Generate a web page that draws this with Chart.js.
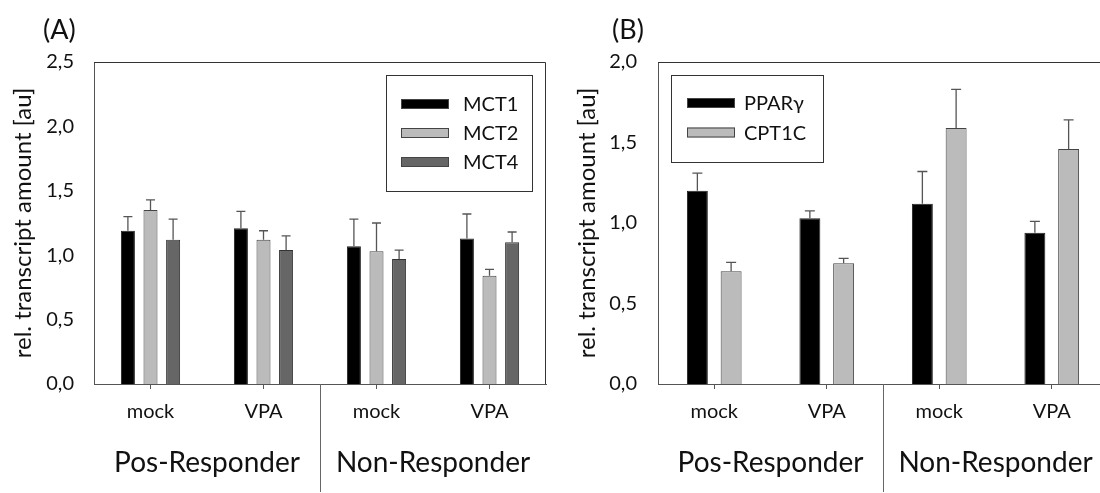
<!DOCTYPE html>
<html>
<head>
<meta charset="utf-8">
<script src="https://cdn.jsdelivr.net/npm/chart.js@4.4.1/dist/chart.umd.min.js"></script>
<style>
  html, body { margin: 0; padding: 0; background: #fff; overflow: hidden; }
  #wrap { position: relative; width: 1100px; height: 493px; overflow: hidden; }
  #chartA { position: absolute; left: 0; top: 0; }
  #chartB { position: absolute; left: 550px; top: 0; }
</style>
</head>
<body>
<div id="wrap">
  <canvas id="chartA" width="550" height="493"></canvas>
  <canvas id="chartB" width="570" height="493"></canvas>
</div>
<script>
// categories
const treatments = ['mock', 'VPA', 'mock', 'VPA'];
const responderGroups = ['Pos-Responder', 'Non-Responder'];

// tick labels
const yTicksA = ['0,0', '0,5', '1,0', '1,5', '2,0', '2,5'];
const yTicksB = ['0,0', '0,5', '1,0', '1,5', '2,0'];

// (A) monocarboxylate transporters, mean and SEM
const mct1 = [1.19, 1.21, 1.07, 1.13];
const mct1Err = [0.11, 0.13, 0.21, 0.19];
const mct2 = [1.35, 1.12, 1.03, 0.84];
const mct2Err = [0.08, 0.07, 0.22, 0.05];
const mct4 = [1.12, 1.04, 0.97, 1.10];
const mct4Err = [0.16, 0.11, 0.07, 0.08];

// (B) PPARγ and CPT1C
const ppar = [1.20, 1.03, 1.12, 0.94];
const pparErr = [0.11, 0.045, 0.20, 0.07];
const cpt1c = [0.70, 0.75, 1.59, 1.46];
const cpt1cErr = [0.055, 0.03, 0.24, 0.18];

Chart.defaults.font.family = 'Lato, "Open Sans", sans-serif';
Chart.defaults.color = '#111';

// upward-only error whiskers on top of each bar
const errorBars = {
  id: 'errorBars',
  afterDatasetsDraw(chart, args, opts) {
    const { ctx } = chart;
    const y = chart.scales.y;
    chart.data.datasets.forEach((ds, i) => {
      const meta = chart.getDatasetMeta(i);
      meta.data.forEach((bar, j) => {
        const top = y.getPixelForValue(ds.data[j] + ds.errors[j]);
        ctx.save();
        ctx.strokeStyle = '#555';
        ctx.lineWidth = 1.3;
        ctx.beginPath();
        ctx.moveTo(bar.x, bar.y);
        ctx.lineTo(bar.x, top);
        ctx.moveTo(bar.x - opts.cap / 2, top);
        ctx.lineTo(bar.x + opts.cap / 2, top);
        ctx.stroke();
        ctx.restore();
      });
    });
  }
};

// box frame, group labels under the axis, legend box and panel letter
const decorations = {
  id: 'decorations',
  afterDraw(chart, args, opts) {
    const { ctx, chartArea: a } = chart;
    const x = chart.scales.x;
    ctx.save();

    ctx.strokeStyle = '#333';
    ctx.lineWidth = 1;
    ctx.beginPath();
    ctx.moveTo(a.left, a.top + 0.5);
    ctx.lineTo(a.right - 0.5, a.top + 0.5);
    ctx.lineTo(a.right - 0.5, a.bottom);
    ctx.stroke();

    const sep = Math.round((x.getPixelForValue(1) + x.getPixelForValue(2)) / 2) + 0.5;
    ctx.strokeStyle = '#666';
    ctx.beginPath();
    ctx.moveTo(sep, a.bottom);
    ctx.lineTo(sep, a.bottom + 108);
    ctx.stroke();

    ctx.fillStyle = '#111';
    ctx.font = '28px Lato';
    ctx.textAlign = 'center';
    ctx.textBaseline = 'alphabetic';
    responderGroups.forEach((g, k) => {
      const cx = (x.getPixelForValue(2 * k) + x.getPixelForValue(2 * k + 1)) / 2;
      ctx.fillText(g, cx, a.bottom + 88);
    });

    ctx.font = '27px Lato';
    ctx.textAlign = 'left';
    ctx.fillText(opts.letter, opts.letterX, 39);

    // legend
    const L = opts.legend;
    ctx.strokeStyle = '#333';
    ctx.strokeRect(L.x + 0.5, L.y + 0.5, L.w, L.h);
    ctx.font = '20px Lato';
    ctx.textBaseline = 'middle';
    chart.data.datasets.forEach((ds, i) => {
      const cy = L.row0 + i * L.rowGap;
      ctx.fillStyle = ds.backgroundColor;
      ctx.fillRect(L.swX, cy - 5, 48, 10);
      ctx.strokeStyle = '#444';
      ctx.strokeRect(L.swX + 0.5, cy - 4.5, 47, 9);
      ctx.fillStyle = '#111';
      ctx.fillText(ds.label, L.textX, cy + 1);
    });
    ctx.restore();
  }
};

function makeChart(canvasId, datasets, yMax, yTicks, axisWidth, titlePad, tickPad, rightPad, deco, cap) {
  return new Chart(document.getElementById(canvasId), {
    type: 'bar',
    data: { labels: treatments, datasets },
    options: {
      responsive: false,
      animation: false,
      events: [],
      categoryPercentage: 0.6,
      barPercentage: 0.62,
      layout: { padding: { left: 0, top: 62, right: rightPad, bottom: 0 } },
      plugins: {
        legend: { display: false },
        tooltip: { enabled: false },
        errorBars: { cap },
        decorations: deco
      },
      scales: {
        x: {
          grid: { display: true, drawOnChartArea: false, drawTicks: true, tickLength: 5, offset: false, color: '#555' },
          border: { display: true, color: '#555', width: 1 },
          ticks: { font: { size: 20 }, padding: 11, color: '#111' },
          afterFit(scale) { scale.height = 109; }
        },
        y: {
          min: 0,
          max: yMax,
          grid: { display: false },
          border: { display: true, color: '#555', width: 1 },
          ticks: {
            stepSize: 0.5,
            font: { size: 20 },
            padding: tickPad,
            color: '#111',
            callback: (v, i) => yTicks[i]
          },
          title: {
            display: true,
            text: 'rel. transcript amount [au]',
            font: { size: 24 },
            color: '#111',
            padding: { top: titlePad, bottom: 0 }
          },
          afterFit(scale) { scale.width = axisWidth; }
        }
      }
    },
    plugins: [errorBars, decorations]
  });
}

makeChart('chartA', [
  { label: 'MCT1', data: mct1, errors: mct1Err, backgroundColor: '#000000', borderColor: '#222', borderWidth: 1 },
  { label: 'MCT2', data: mct2, errors: mct2Err, backgroundColor: '#bbbbbb', borderColor: '#444', borderWidth: 1 },
  { label: 'MCT4', data: mct4, errors: mct4Err, backgroundColor: '#666666', borderColor: '#333', borderWidth: 1 }
], 2.5, yTicksA, 94, 9, 12, 4, {
  letter: '(A)', letterX: 43,
  legend: { x: 386, y: 75, w: 146, h: 116, swX: 401, row0: 104, rowGap: 29, textX: 463 }
}, 9);

makeChart('chartB', [
  { label: 'PPARγ', data: ppar, errors: pparErr, backgroundColor: '#000000', borderColor: '#222', borderWidth: 1 },
  { label: 'CPT1C', data: cpt1c, errors: cpt1cErr, backgroundColor: '#bbbbbb', borderColor: '#444', borderWidth: 1 }
], 2.0, yTicksB, 108, 23, 13, 12, {
  letter: '(B)', letterX: 62,
  legend: { x: 121, y: 75, w: 152, h: 87, swX: 137, row0: 103, rowGap: 29.5, textX: 194 }
}, 10);
</script>
</body>
</html>
